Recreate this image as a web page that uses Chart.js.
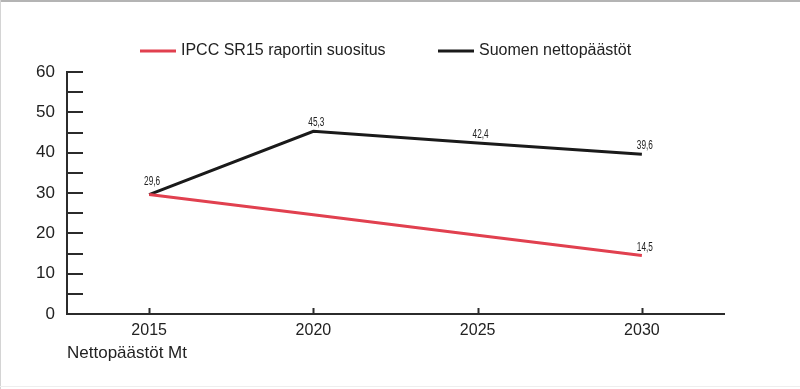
<!DOCTYPE html>
<html><head><meta charset="utf-8">
<script src="https://cdn.jsdelivr.net/npm/chart.js@4"></script>
<style>
html,body{margin:0;padding:0;background:#fff;}
#wrap{position:relative;width:800px;height:389px;overflow:hidden;}
canvas{position:absolute;left:0;top:0;}
.bt{position:absolute;left:0;top:0;width:800px;height:2px;background:#b4b4b4;}
.bl{position:absolute;left:0;top:0;width:1px;height:389px;background:#d4d4d4;}
.bb{position:absolute;left:0;top:386px;width:800px;height:1px;background:#eeeeee;}
</style></head>
<body><div id="wrap"><canvas id="c" width="800" height="389"></canvas><div class="bt"></div><div class="bl"></div><div class="bb"></div></div>
<script>
const years = ['2015', '2020', '2025', '2030'];
const ipccValues = [29.6, 24.6, 19.5, 14.5];
const finlandValues = [29.6, 45.3, 42.4, 39.6];
const seriesNames = ['IPCC SR15 raportin suositus', 'Suomen nettopäästöt'];
const ipccLabelShown = [false, false, false, true];
const finlandLabelShown = [true, true, true, true];
const yMin = 0, yMax = 60, yMinorStep = 5, yLabelStep = 10;
const axisTitle = 'Nettopäästöt Mt';

const FONT = "'Liberation Sans', Arial, sans-serif";
const TEXT = '#222222';
const AXIS = '#2b2b2b';

const innerTicks = {
  id: 'innerTicks',
  beforeDatasetsDraw(chart) {
    const ctx = chart.ctx, a = chart.chartArea;
    const ys = chart.scales.y, xs = chart.scales.x;
    ctx.save();
    ctx.strokeStyle = AXIS; ctx.lineWidth = 2;
    ys.ticks.forEach(t => {
      if (t.value === yMin) return;
      const y = Math.round(ys.getPixelForValue(t.value));
      ctx.beginPath(); ctx.moveTo(a.left, y); ctx.lineTo(a.left + 16, y); ctx.stroke();
    });
    years.forEach((_, i) => {
      const x = Math.round(xs.getPixelForValue(i)) + 0.5;
      ctx.beginPath(); ctx.moveTo(x, a.bottom); ctx.lineTo(x, a.bottom - 6); ctx.stroke();
    });
    ctx.restore();
  }
};

const pointLabels = {
  id: 'pointLabels',
  afterDatasetsDraw(chart) {
    const ctx = chart.ctx;
    const lift = [10, 5, 5, 5];
    chart.data.datasets.forEach((ds, di) => {
      const meta = chart.getDatasetMeta(di);
      meta.data.forEach((pt, i) => {
        if (!ds.showLabel[i]) return;
        const txt = String(ds.data[i]).replace('.', ',');
        ctx.save();
        ctx.translate(pt.x + 3, pt.y - lift[i]);
        ctx.scale(0.66, 1);
        ctx.font = '12.5px ' + FONT;
        ctx.fillStyle = TEXT;
        ctx.textAlign = 'center';
        ctx.textBaseline = 'alphabetic';
        ctx.fillText(txt, 0, 0);
        ctx.restore();
      });
    });
  }
};

const customLegend = {
  id: 'customLegend',
  afterDraw(chart) {
    const ctx = chart.ctx;
    const starts = [140, 438];
    const y = 51;
    ctx.save();
    ctx.font = '16px ' + FONT;
    ctx.textBaseline = 'middle';
    ctx.textAlign = 'left';
    chart.data.datasets.forEach((ds, i) => {
      const x = starts[i];
      ctx.strokeStyle = ds.borderColor; ctx.lineWidth = 3;
      ctx.beginPath(); ctx.moveTo(x, y); ctx.lineTo(x + 36, y); ctx.stroke();
      ctx.fillStyle = TEXT;
      ctx.fillText(ds.label, x + 41, y);
    });
    ctx.restore();
  }
};

new Chart(document.getElementById('c'), {
  type: 'line',
  data: {
    labels: years,
    datasets: [
      { label: seriesNames[0], data: ipccValues, showLabel: ipccLabelShown, borderColor: '#e1404f', backgroundColor: '#e1404f', borderWidth: 3, pointRadius: 0, tension: 0, fill: false },
      { label: seriesNames[1], data: finlandValues, showLabel: finlandLabelShown, borderColor: '#1a1a1a', backgroundColor: '#1a1a1a', borderWidth: 3, pointRadius: 0, tension: 0, fill: false }
    ]
  },
  options: {
    responsive: false,
    animation: false,
    layout: { padding: { top: 72, right: 76, bottom: 0, left: 0 } },
    plugins: { legend: { display: false }, tooltip: { enabled: false } },
    scales: {
      x: {
        type: 'category',
        offset: true,
        grid: { display: false, drawTicks: false },
        border: { display: true, color: AXIS, width: 2 },
        ticks: { color: TEXT, font: { family: FONT, size: 16 }, padding: 7, maxRotation: 0 },
        title: { display: true, text: axisTitle, align: 'start', color: TEXT, font: { family: FONT, size: 17 }, padding: { top: 0, bottom: 25 } },
        afterFit(scale) { scale.height = 75; }
      },
      y: {
        min: yMin, max: yMax,
        grid: { display: false, drawTicks: false },
        border: { display: true, color: AXIS, width: 2 },
        ticks: {
          stepSize: yMinorStep, autoSkip: false, color: TEXT, font: { family: FONT, size: 17 }, padding: 12,
          callback: v => (v % yLabelStep === 0 ? String(v) : '')
        },
        afterFit(scale) { scale.width = 67; }
      }
    }
  },
  plugins: [innerTicks, pointLabels, customLegend]
});
</script>
</body></html>
